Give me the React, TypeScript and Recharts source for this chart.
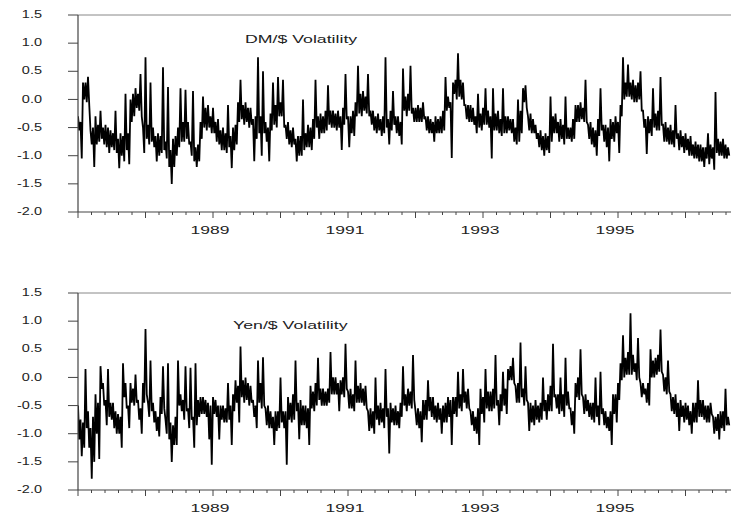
import React from 'react';
import { LineChart, Line, XAxis, YAxis, ReferenceLine } from 'recharts';

// ---- each yearly array holds readings sampled 54 times per year ----
// Consecutive readings come in pairs: the two extremes seen in one 2.5-px column of the picture.
const POINTS_PER_YEAR = 54;
const years = [1987, 1988, 1989, 1990, 1991, 1992, 1993, 1994, 1995, 1996];

// ---- DM/$ volatility ----
const dm1987 = [-0.55, -0.3, -1.05, -0.4, 0.3, 0.0, -0.05, 0.3, 0.4, -0.1, -0.55, -0.8, -1.2, -0.5, -0.3, -0.8, -0.75, -0.45, -0.2, -0.7, -0.8, -0.5, -0.45, -0.85, -0.95, -0.5, -0.55, -0.85, -0.9, -0.6, -0.2, -0.95, -1.22, -0.7, -0.6, -1.0, -1.1, -0.65, 0.1, -0.9, -1.15, -0.6, 0.0, -0.4, -0.3, 0.1, 0.2, -0.15, -0.2, 0.1, 0.45, -0.3, -0.95, -0.5];
const dm1988 = [0.75, -0.7, -0.8, -0.45, 0.3, -0.75, -0.85, -0.5, -1.1, -0.65, -0.6, -1.0, -0.95, -0.65, 0.57, -0.9, -1.05, -0.75, 0.22, -1.2, -1.5, -0.9, -0.7, -1.2, -1.0, -0.65, -0.5, -0.85, 0.2, -0.75, -0.75, -0.4, 0.17, -0.7, -0.4, -0.8, -1.0, -0.75, 0.15, -1.1, -1.2, -0.85, -0.8, -1.1, -0.4, -0.7, 0.05, -0.5, -0.55, -0.15, -0.1, -0.5, -0.6, -0.3];
const dm1989 = [-0.15, -0.6, -0.75, -0.4, -0.35, -0.8, -0.9, -0.55, -0.5, -0.9, -0.95, -0.6, -0.1, -0.85, -1.22, -0.65, -0.5, -0.9, -0.8, -0.45, -0.05, -0.4, 0.35, -0.35, -0.45, -0.1, -0.05, -0.4, -0.5, -0.15, -0.15, -0.45, -1.1, -0.35, -0.3, -0.7, 0.75, -0.6, -1.0, -0.3, 0.5, -0.6, -0.75, -0.4, -1.1, -0.5, -0.25, -0.55, 0.3, -0.45, -0.5, -0.1, 0.4, -0.3];
const dm1990 = [-0.3, -0.05, 0.35, -0.5, -0.7, -0.45, -0.4, -0.8, -0.85, -0.55, -0.5, -0.8, -1.1, -0.7, -0.65, -1.0, -1.0, -0.65, 0.0, -0.9, -0.85, -0.6, -0.45, -0.85, -0.9, -0.5, -0.35, -0.7, 0.35, -0.5, -0.7, -0.3, -0.25, -0.6, -0.6, -0.3, -0.2, -0.55, 0.25, -0.45, -0.5, -0.2, -0.2, -0.5, -0.55, -0.25, -0.2, -0.5, -0.9, -0.3, -0.15, -0.45, 0.45, -0.35];
const dm1991 = [-0.85, -0.3, -0.3, -0.6, -0.65, -0.2, -0.05, -0.3, 0.6, -0.25, -0.3, 0.1, 0.15, -0.2, -0.25, 0.05, 0.45, -0.3, -0.45, -0.2, -0.2, -0.55, -0.6, -0.3, -0.25, -0.55, -0.65, -0.35, -0.3, -0.6, 0.75, -0.5, -0.8, -0.35, -0.2, -0.55, 0.15, -0.45, -0.6, -0.3, -0.3, -0.65, -0.8, -0.4, 0.55, -0.2, -0.3, 0.05, 0.1, -0.2, 0.6, -0.25, -0.15, -0.4];
const dm1992 = [-0.4, -0.15, -0.1, -0.4, -0.4, -0.15, -0.05, -0.35, -0.55, -0.3, -0.3, -0.6, -0.6, -0.35, -0.75, -0.4, -0.3, -0.6, -0.6, -0.35, -0.3, -0.6, -0.55, -0.2, 0.4, -0.2, -0.15, 0.05, -1.04, -0.05, 0.1, 0.3, 0.35, 0.0, 0.82, 0.05, 0.0, 0.35, 0.3, -0.1, -0.35, -0.1, -0.1, -0.4, -0.4, -0.1, -0.15, -0.45, -0.6, -0.3, 0.1, -0.5, -0.55, -0.25];
const dm1993 = [-0.45, -0.15, 0.2, -0.45, -0.5, -0.2, -1.05, -0.3, 0.2, -0.55, -0.55, -0.25, -0.2, -0.6, -0.65, -0.35, 0.2, -0.6, -0.6, -0.3, -0.3, -0.55, -0.6, -0.35, -0.35, -0.75, -0.8, -0.5, 0.0, -0.75, -0.6, -0.2, -0.05, 0.2, 0.25, -0.15, -0.55, -0.3, -0.25, -0.6, -0.6, -0.35, -0.45, -0.7, -0.85, -0.6, -0.55, -0.9, -1.0, -0.65, -0.6, -0.9, -0.95, -0.65];
const dm1994 = [0.05, -0.75, -0.6, -0.3, -0.25, -0.6, -0.75, -0.4, -0.35, -0.7, -0.8, -0.45, 0.05, -0.7, -0.7, -0.5, -0.5, -0.75, -0.7, -0.35, -0.1, -0.4, -0.4, -0.1, -0.05, -0.35, -0.4, -0.15, 0.35, -0.4, -0.7, -0.45, -0.4, -0.8, -0.85, -0.5, -1.0, -0.55, -0.35, -0.65, 0.2, -0.55, -0.75, -0.45, -0.45, -0.85, -1.1, -0.5, -0.35, -0.7, -0.75, -0.4, -0.3, -0.6];
const dm1995 = [-0.95, -0.4, -0.1, -0.3, 0.75, 0.0, 0.05, 0.3, 0.62, 0.05, 0.0, 0.3, 0.35, -0.05, -0.05, 0.25, 0.3, 0.0, 0.5, -0.2, -0.5, -0.2, -0.97, -0.35, -0.3, -0.6, -0.65, -0.35, 0.2, -0.5, -0.55, -0.25, -0.2, -0.55, 0.4, -0.45, -0.75, -0.45, -0.4, -0.75, -0.8, -0.5, -0.45, -0.8, -0.85, -0.55, -0.1, -0.7, -0.9, -0.6, -0.55, -0.85, -0.95, -0.65];
const dm1996 = [-0.6, -0.9, -1.0, -0.7, -0.65, -1.0, -1.05, -0.8, -0.75, -1.05, -1.1, -0.8, -0.8, -1.1, -1.2, -0.85, -0.85, -1.05, -1.15, -0.6, -0.8, -1.05, -1.25, -0.85, 0.13, -0.95, -1.0, -0.7, -0.75, -1.0, -1.05, -0.7, -0.8, -1.05, -1.0, -0.85];

// ---- Yen/$ volatility ----
const yen1987 = [-0.5, -1.1, -1.4, -0.75, -0.8, -1.25, 0.15, -0.9, -1.25, -0.6, -1.8, -0.9, -1.5, -0.7, -0.3, -1.0, -1.45, -0.45, 0.2, -0.2, -0.5, -0.1, -0.85, -0.4, 0.15, -0.7, -0.75, -0.45, -0.45, -0.9, -1.0, -0.6, -0.65, -1.0, -1.25, -0.7, 0.25, -0.35, -0.55, -0.1, -0.9, -0.5, -0.1, -0.45, -0.5, -0.2, 0.05, -0.45, -0.75, -0.4, -1.0, -0.55, -0.1, -0.45];
const yen1988 = [0.86, -0.3, -0.45, -0.7, 0.3, -0.6, -0.8, -0.45, -0.6, -0.95, -1.05, -0.7, -0.35, -0.65, 0.2, -0.55, -1.0, -0.75, 0.25, -1.1, -1.5, -0.8, -0.85, -1.2, -1.2, -0.7, 0.3, -0.5, -0.6, -0.3, -0.4, -0.75, 0.2, -0.6, -0.9, -0.55, 0.17, -0.75, -1.25, -0.7, 0.25, -0.85, -0.7, -0.4, -0.35, -0.65, -0.65, -0.35, -0.4, -0.7, -1.1, -0.45, -1.55, -0.5];
const yen1989 = [-0.35, -0.65, -0.7, -0.4, -1.1, -0.5, -0.5, -0.75, -0.8, -0.5, -0.55, -0.8, -0.1, -0.75, -1.2, -0.5, -0.6, -0.3, -0.05, -0.45, -0.8, -0.15, 0.55, -0.35, -0.45, -0.05, 0.0, -0.4, -0.5, -0.1, -0.15, -0.45, -0.7, -0.4, -0.9, -0.5, 0.3, -0.45, -0.55, -0.1, 0.36, -0.5, -0.85, -0.55, -0.5, -0.9, -0.9, -0.6, -1.2, -0.7, -0.6, -0.95, -0.9, -0.6];
const yen1990 = [0.0, -0.8, -0.6, -0.9, -1.55, -0.6, -0.35, -0.75, -0.8, -0.45, -0.3, -0.75, 0.3, -0.6, -1.1, -0.45, -0.4, -0.85, -0.85, -0.5, -0.5, -0.9, -1.2, -0.55, -0.15, -0.55, -0.6, -0.25, -0.1, -0.5, 0.35, -0.4, -0.5, -0.2, -0.2, -0.5, -0.5, -0.25, -0.2, -0.45, 0.45, -0.3, -0.3, 0.0, 0.0, -0.3, -0.6, -0.1, -0.3, -0.05, 0.0, -0.35, 0.6, -0.2];
const yen1991 = [-0.55, -0.25, -0.2, -0.55, -0.6, -0.3, 0.3, -0.45, -0.45, -0.15, -0.1, -0.45, -0.5, -0.2, -0.15, -0.55, -0.95, -0.6, -0.55, -0.9, -1.0, -0.6, 0.0, -0.75, -0.85, -0.5, -0.45, -0.8, -0.9, -0.55, 0.15, -0.7, -1.35, -0.55, -0.45, -0.8, -0.85, -0.55, -0.5, -0.85, -0.9, -0.6, -0.45, -0.7, 0.2, -0.5, -0.6, -0.3, -0.2, -0.5, -0.55, -0.25, 0.4, -0.4];
const yen1992 = [-0.6, -0.85, -0.9, -0.55, -1.15, -0.6, -0.4, -0.75, -0.75, -0.4, -0.05, -0.6, -0.7, -0.35, -0.35, -0.75, -0.8, -0.5, -0.45, -0.75, -1.0, -0.55, -0.5, -0.8, -0.8, -0.45, -0.35, -0.7, -1.2, -0.4, -0.35, -0.65, -0.7, -0.35, 0.1, -0.55, -0.6, -0.3, 0.15, -0.45, -0.55, -0.25, -0.2, -0.55, -0.85, -0.6, -0.6, -0.95, -1.0, -0.7, -1.2, -0.55, -0.65, -0.2];
const yen1993 = [-0.8, -0.35, 0.15, -0.55, -0.25, -0.6, -0.6, -0.25, -0.2, -0.55, 0.4, -0.5, -0.85, -0.4, -0.3, -0.6, 0.1, -0.5, -0.65, -0.2, 0.15, -0.05, -0.05, 0.2, 0.35, -0.1, -0.45, -0.15, -0.1, -0.45, 0.62, -0.35, -0.5, -0.2, 0.2, -0.4, -0.95, -0.45, -0.45, -0.8, -0.85, -0.5, -0.4, -0.75, -0.8, -0.5, -0.45, -0.75, 0.0, -0.6, -0.75, -0.4, -0.3, -0.6];
const yen1994 = [-0.6, -0.15, 0.6, -0.35, -0.55, -0.3, -0.3, -0.65, 0.0, -0.6, -0.7, -0.3, 0.35, -0.5, -0.55, -0.25, -0.85, -0.55, -1.0, -0.6, -0.1, -0.35, -0.4, 0.0, 0.5, -0.3, -0.65, -0.35, -0.3, -0.6, -0.7, -0.4, -0.45, -0.75, -0.8, -0.45, 0.0, -0.7, -0.85, -0.5, 0.1, -0.65, -0.55, -0.85, -0.9, -0.6, -0.7, -0.95, -1.2, -0.6, -0.3, -0.65, -0.8, -0.3];
const yen1995 = [-0.4, -0.1, -0.05, 0.25, 0.75, 0.0, 0.05, 0.35, 0.45, 0.05, 1.14, 0.05, 0.1, 0.4, 0.25, -0.05, 0.7, 0.0, -0.1, -0.35, -0.3, -0.1, -0.2, -0.45, -0.5, -0.1, 0.5, 0.0, 0.0, 0.3, 0.35, 0.05, 0.1, 0.4, 0.85, 0.1, 0.05, -0.25, -0.3, 0.0, 0.3, -0.25, -0.3, -0.6, -0.65, -0.35, -0.3, -0.7, -0.95, -0.45, -0.4, -0.7, -0.8, -0.5];
const yen1996 = [-0.45, -0.75, -0.85, -0.5, -1.0, -0.6, -0.45, -0.8, -0.8, -0.45, -0.05, -0.7, -0.7, -0.4, -0.4, -0.75, -0.8, -0.5, -0.5, -0.8, -0.65, -0.45, -1.0, -0.7, -0.7, -0.95, -1.1, -0.65, -0.6, -0.9, -0.95, -0.6, -0.2, -0.85, -0.85, -0.7];

// ---- axes ----
const yTicks = [-2.0, -1.5, -1.0, -0.5, 0.0, 0.5, 1.0, 1.5];
const yearLabels = [1989, 1991, 1993, 1995];
const X_MIN = 1987;
const X_MAX = 1996.674;
const TICK_STEP = 0.2;

const dmByYear = [dm1987, dm1988, dm1989, dm1990, dm1991, dm1992, dm1993, dm1994, dm1995, dm1996];
const yenByYear = [yen1987, yen1988, yen1989, yen1990, yen1991, yen1992, yen1993, yen1994, yen1995, yen1996];

// Each column's two readings are drawn high first, then low, so the trace sweeps the full range of every column.
const toRows = (byYear: number[][]) =>
  byYear.flatMap((vals, yi) => {
    const rows: { t: number; v: number }[] = [];
    for (let p = 0; p + 1 < vals.length; p += 2) {
      const a = vals[p];
      const b = vals[p + 1];
      rows.push({ t: years[yi] + p / POINTS_PER_YEAR, v: Math.max(a, b) });
      rows.push({ t: years[yi] + (p + 1) / POINTS_PER_YEAR, v: Math.min(a, b) });
    }
    return rows;
  });
const dmRows = toRows(dmByYear);
const yenRows = toRows(yenByYear);

const xTicks: number[] = [];
for (let k = 0; X_MIN + k * TICK_STEP <= 1996.61; k++) xTicks.push(+(X_MIN + k * TICK_STEP).toFixed(4));

const FONT = '"Liberation Sans", Arial, Helvetica, sans-serif';
const AXIS = '#444';
const TEXT = '#222';

const XTick = (props: any) => {
  const { x, y, payload } = props;
  const v = payload.value as number;
  const isMajor = Math.abs(v - Math.round(v)) < 1e-6;
  const year = Math.round(v);
  const showLabel = isMajor && yearLabels.includes(year);
  return (
    <g>
      <line x1={x} x2={x} y1={y} y2={y + (isMajor ? 6 : 3)} stroke={AXIS} strokeWidth={1} />
      {showLabel && (
        <g transform={`translate(${x - 3}, ${y + 18}) scale(1.75, 1)`}>
          <text x={0} y={0} textAnchor="middle" dominantBaseline="central" fontSize={10} fill={TEXT} fontFamily={FONT}>
            {year}
          </text>
        </g>
      )}
    </g>
  );
};

const YTick = (props: any) => {
  const { x, y, payload } = props;
  const v = payload.value as number;
  return (
    <g>
      <line x1={x - 10} x2={x} y1={y} y2={y} stroke={AXIS} strokeWidth={1} />
      <g transform={`translate(${x - 36}, ${y}) scale(1.45, 1)`}>
        <text x={0} y={0} textAnchor="end" dominantBaseline="central" fontSize={10} fill={TEXT} fontFamily={FONT}>
          {v.toFixed(1)}
        </text>
      </g>
    </g>
  );
};

const Panel = ({ rows }: { rows: { t: number; v: number }[] }) => (
  <LineChart width={731} height={242} data={rows} margin={{ top: 15, right: 0, left: 0, bottom: 0 }}>
    <ReferenceLine y={1.5} stroke="#888" strokeWidth={1} />
    <XAxis
      dataKey="t"
      type="number"
      domain={[X_MIN, X_MAX]}
      ticks={xTicks}
      interval={0}
      height={30}
      tickSize={0}
      tickMargin={0}
      tickLine={false}
      axisLine={{ stroke: AXIS, strokeWidth: 1.2 }}
      tick={<XTick />}
      allowDataOverflow
    />
    <YAxis
      type="number"
      domain={[-2, 1.5]}
      ticks={yTicks}
      interval={0}
      width={78}
      tickSize={0}
      tickMargin={0}
      tickLine={false}
      axisLine={{ stroke: AXIS, strokeWidth: 1.2 }}
      tick={<YTick />}
      allowDataOverflow
    />
    <Line
      type="linear"
      dataKey="v"
      stroke="#000"
      strokeWidth={1.8}
      strokeLinejoin="miter"
      strokeMiterlimit={2}
      dot={false}
      activeDot={false}
      isAnimationActive={false}
    />
  </LineChart>
);

const titleStyle: React.CSSProperties = {
  position: 'absolute',
  fontFamily: FONT,
  fontSize: 11.5,
  color: TEXT,
  transform: 'scaleX(1.54)',
  transformOrigin: 'left center',
  whiteSpace: 'nowrap',
  lineHeight: '14px',
};

export default function App() {
  return (
    <div style={{ position: 'absolute', left: 0, top: 0, width: 731, height: 516, overflow: 'hidden', background: '#fff' }}>
      <div style={{ position: 'absolute', left: 0, top: 0 }}>
        <Panel rows={dmRows} />
      </div>
      <div style={{ position: 'absolute', left: 0, top: 278 }}>
        <Panel rows={yenRows} />
      </div>
      <div style={{ ...titleStyle, left: 245, top: 32 }}>DM/$ Volatility</div>
      <div style={{ ...titleStyle, left: 233, top: 318 }}>Yen/$ Volatility</div>
    </div>
  );
}
